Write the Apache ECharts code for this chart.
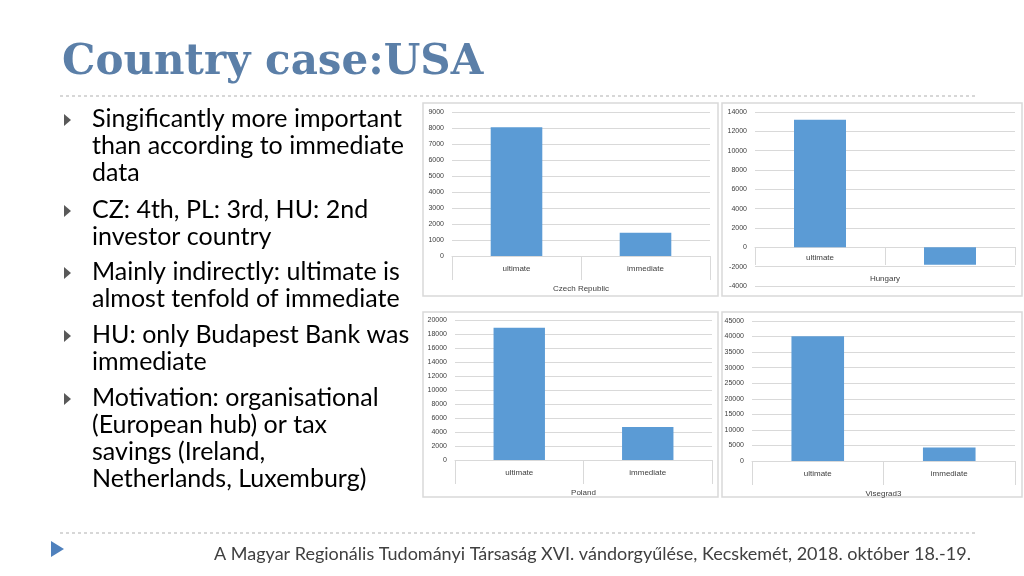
<!DOCTYPE html>
<html>
<head>
<meta charset="utf-8">
<script src="https://cdn.jsdelivr.net/npm/echarts@6/dist/echarts.min.js"></script>
<style>
html, body { margin: 0; padding: 0; background: #fff; }
#main { width: 1024px; height: 576px; }
</style>
</head>
<body>
<div id="main"></div>
<script>
var categories = ['ultimate', 'immediate'];
var countries = ['Czech Republic', 'Hungary', 'Poland', 'Visegrad3'];
var czValues = [8050, 1450];
var huValues = [13200, -1800];
var plValues = [18900, 4700];
var v3Values = [40100, 4300];
var allValues = [czValues, huValues, plValues, v3Values];
var axisMin = [0, -4000, 0, 0];
var axisMax = [9000, 14000, 20000, 45000];
var axisStep = [1000, 2000, 2000, 5000];
var bullets = [
	['Singificantly more important', 'than according to immediate', 'data'],
	['CZ: 4th, PL: 3rd, HU: 2nd', 'investor country'],
	['Mainly indirectly: ultimate is', 'almost tenfold of immediate'],
	['HU: only Budapest Bank was', 'immediate'],
	['Motivation: organisational', '(European hub) or tax', 'savings (Ireland,', 'Netherlands, Luxemburg)']
];

var grids = [
	{ left: 452, top: 112, width: 258, height: 144 },
	{ left: 755, top: 112, width: 260, height: 174 },
	{ left: 455, top: 320, width: 257, height: 140 },
	{ left: 752, top: 321, width: 263, height: 140 }
];
var panels = [[423, 103, 295, 193], [722, 103, 300, 193], [423, 312, 295, 185], [722, 312, 300, 185]];

var chart = echarts.init(document.getElementById('main'));
var xAxes = [], yAxes = [], series = [];
for (var i = 0; i < 4; i++) {
	var hu = i == 1;
	xAxes.push({
		type: 'category', gridIndex: i, data: categories,
		position: 'bottom', offset: hu ? -39 : 0,
		name: countries[i], nameLocation: 'middle', nameGap: hu ? 28 : 29,
		nameTextStyle: { fontSize: 8, color: '#404040', fontFamily: 'Liberation Sans' },
		axisLine: { onZero: false, lineStyle: { color: '#d9d9d9' } },
		axisTick: { show: true, length: hu ? 18 : 24, lineStyle: { color: '#d9d9d9' } },
		axisLabel: { fontSize: 8, color: '#404040', fontFamily: 'Liberation Sans', margin: hu ? 7 : 9 }
	});
	yAxes.push({
		type: 'value', gridIndex: i, min: axisMin[i], max: axisMax[i], interval: axisStep[i],
		axisLine: { show: false }, axisTick: { show: false },
		splitLine: { lineStyle: { color: '#d9d9d9' } },
		axisLabel: { fontSize: 7, color: '#404040', fontFamily: 'Liberation Sans', margin: 8,
			formatter: function (v) { return String(v); } }
	});
	series.push({
		type: 'bar', xAxisIndex: i, yAxisIndex: i, data: allValues[i],
		barWidth: '40%', itemStyle: { color: '#5b9bd5' }
	});
}

var graphic = [];
panels.forEach(function (p) {
	graphic.push({ type: 'rect', shape: { x: p[0], y: p[1], width: p[2], height: p[3] },
		style: { fill: 'none', stroke: '#d9d9d9', lineWidth: 1.5 }, z: -1 });
});
graphic.push({ type: 'text', left: 62, top: 42, style: { text: 'Country case:USA',
	font: 'bold 42px "DejaVu Serif"', fill: '#5b7fa8', shadowColor: 'rgba(0,0,0,0.25)', shadowOffsetX: 2, shadowOffsetY: 2, shadowBlur: 2 } });
graphic.push({ type: 'line', shape: { x1: 60, y1: 96, x2: 975, y2: 96 }, style: { stroke: '#b0b0b0', lineDash: [3, 3] } });
graphic.push({ type: 'line', shape: { x1: 60, y1: 533, x2: 975, y2: 533 }, style: { stroke: '#b0b0b0', lineDash: [3, 3] } });
var y = 120;
var gaps = [0, 37, 35, 36, 36];
bullets.forEach(function (lines, b) {
	if (b > 0) y += gaps[b] - 27;
	graphic.push({ type: 'polygon', shape: { points: [[64, y - 6], [64, y + 6], [71, y]] }, style: { fill: '#595959' } });
	lines.forEach(function (t) {
		graphic.push({ type: 'text', left: 92, top: y - 14, style: { text: t, font: '25px "Lato"', fill: '#000' } });
		y += 27;
	});
});
graphic.push({ type: 'polygon', shape: { points: [[51, 541], [51, 557], [64, 549]] }, style: { fill: '#4f81bd' } });
graphic.push({ type: 'text', left: 214, top: 545, style: {
	text: 'A Magyar Regionális Tudományi Társaság XVI. vándorgyűlése, Kecskemét, 2018. október 18.-19.',
	font: '18px "Lato"', fill: '#404040' } });

var option = {
	animation: false,
	grid: grids,
	xAxis: xAxes,
	yAxis: yAxes,
	series: series,
	graphic: graphic
};
chart.setOption(option);
</script>
</body>
</html>
